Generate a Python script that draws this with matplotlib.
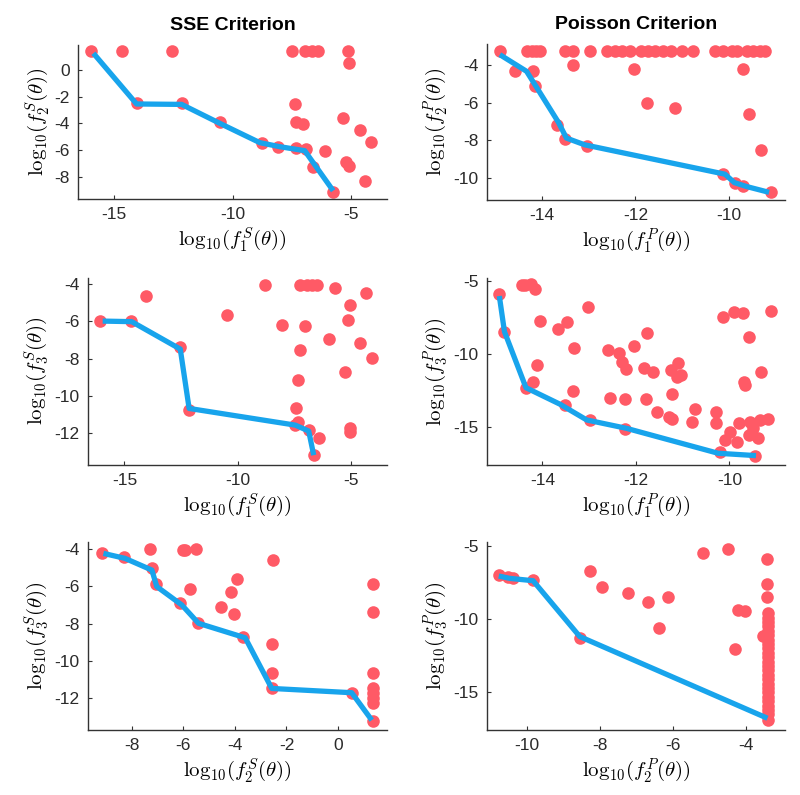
import matplotlib
matplotlib.use('Agg')
import matplotlib.pyplot as plt

plt.rcParams['font.family'] = ['Liberation Sans', 'DejaVu Sans']
plt.rcParams['mathtext.fontset'] = 'cm'

RED = '#ff5a66'
BLUE = '#18a4ec'

# ---- SSE: f1 vs f2 ----
s12_x = [-16.0, -14.69, -12.56, -7.49, -6.97, -6.66, -6.43, -5.14, -5.10,
         -14.03, -12.16, -10.55, -7.39, -7.32, -7.04, -5.35, -4.65, -4.16,
         -8.79, -8.09, -7.32, -6.9, -6.62, -6.12, -5.21, -5.1, -4.44, -5.77]
s12_y = [1.43, 1.43, 1.43, 1.43, 1.43, 1.43, 1.43, 1.43, 0.55,
         -2.5, -2.5, -3.88, -2.58, -3.93, -4.08, -3.58, -4.5, -5.38,
         -5.5, -5.75, -5.88, -5.93, -7.25, -6.05, -6.88, -7.2, -8.33, -9.18]
s12_fx = [-15.88, -14.06, -12.16, -10.55, -8.86, -8.02, -6.97, -6.69, -5.77]
s12_fy = [1.25, -2.55, -2.58, -4.0, -5.45, -5.75, -6.05, -6.75, -9.05]

# ---- Poisson: f1 vs f2 ----
p12_x = [-14.89, -14.32, -14.21, -14.11, -14.04, -13.5, -13.32, -12.97, -12.61,
         -12.44, -12.29, -12.12, -11.87, -11.73, -11.58, -11.41, -11.23, -11.01,
         -10.77, -10.3, -10.13, -9.95, -9.84, -9.63, -9.49, -9.34, -9.24,
         -13.32, -12.02, -9.7, -11.76, -11.16, -9.58, -9.33, -14.57, -14.19,
         -14.14, -13.68, -13.5, -13.03, -10.14, -9.88, -9.7, -9.1]
p12_y = [-3.25, -3.25, -3.25, -3.25, -3.25, -3.25, -3.25, -3.25, -3.25,
         -3.25, -3.25, -3.25, -3.25, -3.25, -3.25, -3.25, -3.25, -3.25,
         -3.25, -3.25, -3.25, -3.25, -3.25, -3.25, -3.25, -3.25, -3.25,
         -4.0, -4.18, -4.2, -6.02, -6.29, -6.6, -8.55, -4.29, -4.29,
         -5.09, -7.18, -7.95, -8.29, -9.8, -10.27, -10.43, -10.79]
p12_fx = [-14.89, -14.32, -14.14, -13.64, -13.47, -13.08, -10.09, -9.89, -9.63, -9.15]
p12_fy = [-3.43, -4.32, -5.04, -7.05, -7.89, -8.25, -9.82, -10.27, -10.48, -10.79]

# ---- SSE: f1 vs f3 ----
s13_x = [-16.07, -14.71, -14.06, -12.54, -12.15, -10.49, -8.79, -8.06, -7.28,
         -6.96, -6.74, -6.51, -5.71, -4.34, -5.07, -5.15, -7.03, -6.0, -4.6,
         -4.09, -7.25, -5.29, -7.35, -7.43, -7.35, -7.47, -6.88, -6.44, -5.04,
         -5.04, -6.66]
s13_y = [-5.98, -5.98, -4.63, -7.4, -10.78, -5.65, -4.04, -6.19, -4.04,
         -4.04, -4.04, -4.04, -4.18, -4.45, -5.12, -5.92, -6.25, -6.97, -7.15,
         -7.96, -7.54, -8.71, -9.16, -10.69, -11.41, -11.59, -11.86, -12.27, -11.72,
         -11.95, -13.21]
s13_fx = [-15.96, -14.68, -12.54, -12.15, -7.47, -6.88, -6.66]
s13_fy = [-5.98, -6.01, -7.49, -10.69, -11.59, -11.91, -13.21]

# ---- Poisson: f1 vs f3 ----
p13_x = [-14.92, -14.83, -14.44, -14.37, -14.24, -14.16, -14.06, -14.11, -14.19,
         -14.35, -13.66, -13.48, -13.32, -13.34, -13.52, -13.03, -12.98, -12.59,
         -12.37, -12.3, -12.05, -11.77, -12.22, -12.55, -12.23, -12.23, -11.82,
         -11.63, -11.78, -11.55, -11.3, -11.23, -11.23, -11.25, -11.09, -11.13,
         -11.04, -10.73, -10.8, -10.29, -10.29, -10.21, -10.13, -9.91, -9.7,
         -9.57, -9.69, -9.66, -9.33, -9.11, -10.09, -9.99, -9.84, -9.79, -9.59,
         -9.56, -9.49, -9.38, -9.34, -9.17, -9.45]
p13_y = [-5.91, -8.48, -5.3, -5.3, -5.25, -5.59, -7.75, -10.75, -11.89,
         -12.3, -8.32, -7.8, -9.57, -12.52, -13.48, -6.77, -14.5, -9.73,
         -9.95, -10.52, -9.45, -8.55, -11.02, -12.98, -13.07, -15.14, -10.93,
         -11.2, -13.07, -13.93, -14.27, -14.43, -12.75, -11.09, -10.64, -11.55,
         -11.43, -13.75, -14.61, -13.93, -14.68, -16.7, -7.45, -7.11, -7.18,
         -8.82, -11.89, -12.11, -11.25, -7.05, -15.86, -15.3, -15.98, -14.73, -15.52,
         -14.61, -15.07, -15.75, -14.5, -14.43, -16.93]
p13_fx = [-14.92, -14.81, -14.35, -13.62, -13.05, -12.2, -10.24, -9.43]
p13_fy = [-6.05, -8.48, -12.3, -13.43, -14.5, -15.07, -16.77, -16.93]

# ---- SSE: f2 vs f3 ----
s23_x = [-9.16, -8.32, -7.29, -7.22, -7.06, -6.12, -6.02, -5.93, -5.5, -5.74,
         -5.44, -4.55, -4.14, -3.92, -4.02, -3.67, -2.54, -2.57, -2.57, -2.57,
         0.53, 1.35, 1.35, 1.35, 1.35, 1.35, 1.35, 1.35, 1.35]
s23_y = [-4.18, -4.4, -4.0, -4.99, -5.89, -6.91, -4.04, -4.04, -4.0, -6.16,
         -7.96, -7.13, -6.28, -5.62, -7.51, -8.71, -4.58, -9.13, -10.69, -11.5,
         -11.77, -5.89, -7.36, -10.69, -11.5, -11.77, -12.04, -12.31, -13.24]
s23_fx = [-9.1, -8.26, -7.22, -7.03, -6.06, -5.41, -3.6, -2.57, 0.53, 1.31]
s23_fy = [-4.22, -4.49, -5.12, -6.01, -7.0, -7.99, -8.77, -11.5, -11.73, -13.21]

# ---- Poisson: f2 vs f3 ----
p23_x = [-10.77, -10.51, -10.37, -9.83, -8.27, -7.95, -7.22, -6.68, -6.13,
         -6.37, -8.55, -5.17, -4.48, -4.23, -4.03, -4.3, -3.43, -3.43, -3.43,
         -3.52,
         -3.39, -3.39, -3.39, -3.39, -3.39, -3.39, -3.39, -3.39, -3.39, -3.39,
         -3.39, -3.39, -3.39, -3.39, -3.39, -3.39, -3.39, -3.39, -3.39, -3.39,
         -3.39, -3.39, -3.39, -3.39, -3.39]
p23_y = [-7.0, -7.11, -7.23, -7.34, -6.73, -7.8, -8.25, -8.82, -8.48,
         -10.64, -11.32, -5.48, -5.25, -9.39, -9.45, -12.07, -5.93, -7.64, -8.48,
         -11.16,
         -9.6, -9.9, -10.2, -10.5, -10.8, -11.1, -11.4, -11.7, -12.0, -12.3,
         -12.6, -12.9, -13.2, -13.5, -13.8, -14.1, -14.4, -14.7, -15.0, -15.3,
         -15.6, -15.9, -16.2, -16.5, -16.9]
p23_fx = [-10.77, -10.47, -9.83, -8.55, -3.41]
p23_fy = [-7.07, -7.23, -7.39, -11.2, -16.77]

W, H = 800, 795
fig = plt.figure(figsize=(8, 7.95), dpi=100)


def make_ax(l, t, r, b):
    return fig.add_axes([l / W, 1 - b / H, (r - l) / W, (b - t) / H])


def panel(ax, x, y, fx, fy, xlim, ylim, xticks, yticks, xl, yl):
    ax.scatter(x, y, s=82, color=RED, linewidths=0, zorder=2)
    ax.plot(fx, fy, color=BLUE, lw=3.8, zorder=3, solid_capstyle='butt')
    ax.set_xlim(xlim)
    ax.set_ylim(ylim)
    ax.set_xticks(xticks)
    ax.set_yticks(yticks)
    ax.set_xticklabels([str(v) for v in xticks])
    ax.set_yticklabels([str(v) for v in yticks])
    for s in ['top', 'right']:
        ax.spines[s].set_visible(False)
    for s in ['left', 'bottom']:
        ax.spines[s].set_color('#333333')
        ax.spines[s].set_linewidth(1.0)
    ax.tick_params(direction='in', length=3, width=0.8, colors='#333333',
                   labelsize=12.5, labelcolor='#2a2a2a', pad=6)
    ax.set_xlabel(xl, fontsize=15, labelpad=2)
    ax.set_ylabel(yl, fontsize=15, labelpad=2)


def lab(i, c):
    return r'$\mathrm{log}_{10}(f_%d^%s(\theta))$' % (i, c)


a1 = make_ax(78, 45, 387, 199)
panel(a1, s12_x, s12_y, s12_fx, s12_fy, (-16.53, -3.5), (-9.67, 1.87),
      [-15, -10, -5], [0, -2, -4, -6, -8], lab(1, 'S'), lab(2, 'S'))
a1.set_title('SSE Criterion', fontsize=14, fontweight='bold', pad=11)

a2 = make_ax(486.7, 44, 785, 200)
panel(a2, p12_x, p12_y, p12_fx, p12_fy, (-15.17, -8.81), (-11.2, -2.86),
      [-14, -12, -10], [-4, -6, -8, -10], lab(1, 'P'), lab(2, 'P'))
a2.set_title('Poisson Criterion', fontsize=14, fontweight='bold', pad=11)

a3 = make_ax(87.7, 277.7, 387, 465)
panel(a3, s13_x, s13_y, s13_fx, s13_fy, (-16.62, -3.43), (-13.74, -3.64),
      [-15, -10, -5], [-4, -6, -8, -10, -12], lab(1, 'S'), lab(3, 'S'))

a4 = make_ax(486.7, 277.7, 785, 465)
panel(a4, p13_x, p13_y, p13_fx, p13_fy, (-15.19, -8.81), (-17.57, -4.8),
      [-14, -12, -10], [-5, -10, -15], lab(1, 'P'), lab(3, 'P'))

a5 = make_ax(87.7, 541.7, 387, 730)
panel(a5, s23_x, s23_y, s23_fx, s23_fy, (-9.71, 1.9), (-13.74, -3.59),
      [-8, -6, -4, -2, 0], [-4, -6, -8, -10, -12], lab(2, 'S'), lab(3, 'S'))

a6 = make_ax(486.7, 541.7, 785, 730)
panel(a6, p23_x, p23_y, p23_fx, p23_fy, (-11.1, -2.93), (-17.57, -4.73),
      [-10, -8, -6, -4], [-5, -10, -15], lab(2, 'P'), lab(3, 'P'))

fig.savefig('out.png', dpi=100)
